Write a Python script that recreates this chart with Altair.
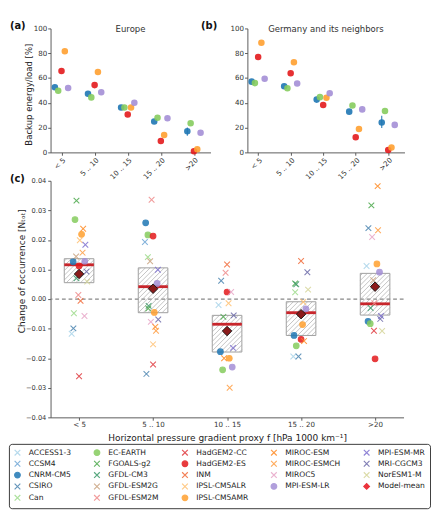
import altair as alt
import pandas as pd
import numpy as np

# ---------------- data ----------------
categories = ["< 5", "5 .. 10", "10 .. 15", "15 .. 20", ">20"]

top_models = ["CNRM-CM5", "EC-EARTH", "HadGEM2-ES", "IPSL-CM5AMR", "MPI-ESM-LR"]
europe_backup = {
    "CNRM-CM5":    [52.5, 47.4, 36.2, 25.0, 17.0],
    "EC-EARTH":    [49.7, 44.4, 36.2, 28.0, 23.5],
    "HadGEM2-ES":  [65.6, 54.3, 30.6, 9.2, 1.0],
    "IPSL-CM5AMR": [81.6, 64.8, 36.2, 14.0, 2.5],
    "MPI-ESM-LR":  [52.0, 48.5, 40.0, 27.6, 15.8],
}
germany_backup = {
    "CNRM-CM5":    [57.1, 53.3, 42.6, 32.9, 24.2],
    "EC-EARTH":    [55.9, 51.8, 44.6, 37.8, 33.4],
    "HadGEM2-ES":  [77.0, 63.8, 38.3, 12.2, 2.0],
    "IPSL-CM5AMR": [88.5, 72.7, 44.1, 18.9, 4.0],
    "MPI-ESM-LR":  [59.4, 55.6, 47.7, 34.7, 22.2],
}
# (model, category index, low, high)
europe_err = [("CNRM-CM5", 4, 13.5, 20.0)]
germany_err = [("CNRM-CM5", 4, 19.6, 29.6)]

# change of occurrence per category: (model, value, jitter)
occ_lt5 = [
    ("FGOALS-g2", 0.0333, -0.035), ("EC-EARTH", 0.0269, -0.055), ("MIROC-ESM", 0.0238, 0.055),
    ("IPSL-CM5AMR", 0.0219, 0.034), ("IPSL-CM5ALR", 0.0199, 0.010), ("MPI-ESM-MR", 0.0184, 0.085),
    ("MIROC-ESMCH", 0.0157, 0.047), ("GFDL-ESM2G", 0.0144, -0.040), ("CNRM-CM5", 0.0126, -0.080),
    ("MPI-ESM-LR", 0.0128, 0.077), ("HadGEM2-ES", 0.0112, 0.000), ("MRI-CGCM3", 0.0093, 0.100),
    ("GFDL-CM3", 0.0070, -0.035), ("NorESM1-M", 0.0059, 0.110), ("GFDL-ESM2M", 0.0014, -0.010),
    ("INM", -0.0006, 0.020), ("Can", -0.0048, -0.070), ("MIROC5", -0.0057, 0.073),
    ("CSIRO", -0.0099, -0.077), ("ACCESS1-3", -0.0117, -0.100), ("HadGEM2-CC", -0.0261, 0.000),
]
occ_5_10 = [
    ("GFDL-ESM2M", 0.0336, -0.020), ("CNRM-CM5", 0.0258, -0.100), ("EC-EARTH", 0.0217, -0.070),
    ("HadGEM2-ES", 0.0213, 0.000), ("CCSM4", 0.0193, -0.110), ("Can", 0.0142, -0.070),
    ("GFDL-ESM2G", 0.0128, -0.040), ("MPI-ESM-MR", 0.0099, 0.065), ("MPI-ESM-LR", 0.0053, 0.055),
    ("GFDL-CM3", -0.0023, -0.060), ("FGOALS-g2", -0.0032, -0.065), ("IPSL-CM5AMR", -0.0045, 0.017),
    ("MRI-CGCM3", -0.0069, 0.070), ("MIROC5", -0.0077, -0.030), ("MIROC-ESM", -0.0094, 0.030),
    ("MIROC-ESMCH", -0.0107, 0.040), ("IPSL-CM5ALR", -0.0153, 0.000), ("HadGEM2-CC", -0.0221, 0.000),
    ("CSIRO", -0.0253, -0.090),
]
occ_10_15 = [
    ("INM", 0.0117, 0.000), ("GFDL-ESM2M", 0.0089, -0.020), ("CSIRO", 0.0062, -0.080),
    ("HadGEM2-ES", 0.0024, 0.000), ("MIROC5", 0.0024, 0.055), ("ACCESS1-3", -0.0020, -0.115),
    ("IPSL-CM5ALR", -0.0014, 0.020), ("FGOALS-g2", -0.0060, -0.050), ("MRI-CGCM3", -0.0055, 0.090),
    ("MPI-ESM-MR", -0.0165, 0.080), ("CNRM-CM5", -0.0178, -0.090), ("MIROC-ESM", -0.0200, -0.040),
    ("IPSL-CM5AMR", -0.0200, 0.030), ("EC-EARTH", -0.0239, -0.060), ("MPI-ESM-LR", -0.0230, 0.070),
    ("MIROC-ESMCH", -0.0300, 0.035),
]
occ_15_20 = [
    ("INM", 0.0129, 0.000), ("MRI-CGCM3", 0.0091, 0.085), ("FGOALS-g2", 0.0053, -0.080),
    ("GFDL-CM3", 0.0050, -0.065), ("NorESM1-M", 0.0032, 0.095), ("Can", 0.0023, -0.080),
    ("IPSL-CM5ALR", -0.0010, 0.030), ("MPI-ESM-LR", -0.0033, 0.065), ("IPSL-CM5AMR", -0.0086, 0.020),
    ("CNRM-CM5", -0.0123, -0.095), ("HadGEM2-ES", -0.0136, 0.000), ("MIROC-ESM", -0.0142, 0.040),
    ("EC-EARTH", -0.0158, -0.065), ("ACCESS1-3", -0.0194, -0.105), ("CSIRO", -0.0194, -0.035),
]
occ_gt20 = [
    ("MIROC-ESM", 0.0382, 0.035), ("FGOALS-g2", 0.0317, -0.050), ("CSIRO", 0.0240, -0.090),
    ("MIROC-ESMCH", 0.0233, 0.040), ("MIROC5", 0.0210, -0.040), ("ACCESS1-3", 0.0112, -0.115),
    ("IPSL-CM5AMR", 0.0119, 0.025), ("MPI-ESM-LR", 0.0091, 0.060), ("GFDL-ESM2G", 0.0064, -0.025),
    ("GFDL-ESM2M", -0.0014, -0.010), ("GFDL-CM3", -0.0030, -0.060), ("MPI-ESM-MR", -0.0057, 0.080),
    ("MRI-CGCM3", -0.0067, 0.070), ("CNRM-CM5", -0.0075, -0.095), ("EC-EARTH", -0.0083, -0.065),
    ("HadGEM2-CC", -0.0107, -0.015), ("NorESM1-M", -0.0108, 0.095), ("HadGEM2-ES", -0.0202, 0.000),
]
occ_by_cat = [occ_lt5, occ_5_10, occ_10_15, occ_15_20, occ_gt20]

box_q1 = [0.00555, -0.0046, -0.0179, -0.0123, -0.0054]
box_median = [0.0116, 0.0042, -0.0085, -0.0046, -0.0016]
box_q3 = [0.01365, 0.01056, -0.0055, -0.0009, 0.0087]
box_mean = [0.0085, 0.0035, -0.0108, -0.0051, 0.0042]

# ---------------- styles ----------------
X_PATH = "M-1,-1L1,1M-1,1L1,-1"
model_style = {
    "ACCESS1-3":   ("#a9d4ea", X_PATH),
    "CCSM4":       ("#6fa6d6", X_PATH),
    "CNRM-CM5":    ("#1f77b4", "circle"),
    "CSIRO":       ("#4a84b0", X_PATH),
    "Can":         ("#9edc8c", X_PATH),
    "EC-EARTH":    ("#86cc5e", "circle"),
    "FGOALS-g2":   ("#4aa84a", X_PATH),
    "GFDL-CM3":    ("#3c9a6a", X_PATH),
    "GFDL-ESM2G":  ("#c9a27e", X_PATH),
    "GFDL-ESM2M":  ("#ef8a8a", X_PATH),
    "HadGEM2-CC":  ("#e0393e", X_PATH),
    "HadGEM2-ES":  ("#e3191c", "circle"),
    "INM":         ("#f26b3a", X_PATH),
    "IPSL-CM5ALR": ("#ffc070", X_PATH),
    "IPSL-CM5AMR": ("#ffa030", "circle"),
    "MIROC-ESM":   ("#ff8a22", X_PATH),
    "MIROC-ESMCH": ("#ff9d40", X_PATH),
    "MIROC5":      ("#e8a6c8", X_PATH),
    "MPI-ESM-LR":  ("#a48fd6", "circle"),
    "MPI-ESM-MR":  ("#7d6fd0", X_PATH),
    "MRI-CGCM3":   ("#6a68a8", X_PATH),
    "NorESM1-M":   ("#d6d69a", X_PATH),
    "Model-mean":  ("#e8101a", "diamond"),
}
# row-major order (horizontal legend) so that the 5 columns read like the reference
legend_order = [
    "ACCESS1-3", "EC-EARTH", "HadGEM2-CC", "MIROC-ESM", "MPI-ESM-MR",
    "CCSM4", "FGOALS-g2", "HadGEM2-ES", "MIROC-ESMCH", "MRI-CGCM3",
    "CNRM-CM5", "GFDL-CM3", "INM", "MIROC5", "NorESM1-M",
    "CSIRO", "GFDL-ESM2G", "IPSL-CM5ALR", "MPI-ESM-LR", "Model-mean",
    "Can", "GFDL-ESM2M", "IPSL-CM5AMR",
]

FONT = "DejaVu Sans"
AX = "#555555"
label_expr = "[" + ",".join("'" + c + "'" for c in categories) + "][datum.value]"

# ---------------- top panels ----------------
A_W, B_W, TOP_H = 169, 166, 131
TOP_XDOM = [-0.33, 4.5]
DODGE = 0.1
top_colors = [model_style[m][0] for m in top_models]


def top_panel(values, errs, title, tag, tag_x, W, ytitle):
    rows = []
    for k, m in enumerate(top_models):
        for i, v in enumerate(values[m]):
            rows.append({"model": m, "x": i + (k - 2) * DODGE, "value": v})
    df = pd.DataFrame(rows)
    erows = [{"model": m, "x": i + (top_models.index(m) - 2) * DODGE, "lo": lo, "hi": hi}
             for (m, i, lo, hi) in errs]
    edf = pd.DataFrame(erows)

    xaxis = alt.Axis(values=[0, 1, 2, 3, 4], labelExpr=label_expr, labelAngle=-45,
                     labelAlign="right", labelBaseline="top", labelFontSize=7.5,
                     tickSize=3, labelPadding=1, title=None)
    if ytitle:
        yaxis = alt.Axis(values=[0, 20, 40, 60, 80, 100], title=ytitle, titleFontSize=9,
                         titleX=-23, titleY=TOP_H / 2 + 4, titleBaseline="middle",
                         labelFontSize=7.5, tickSize=3, labelPadding=1)
    else:
        yaxis = alt.Axis(values=[0, 20, 40, 60, 80, 100], title=None,
                         labelFontSize=7.5, tickSize=3, labelPadding=1)
    xsc = alt.Scale(domain=TOP_XDOM, nice=False, zero=False)
    ysc = alt.Scale(domain=[0, 100], nice=False)
    col = alt.Color("model:N", scale=alt.Scale(domain=top_models, range=top_colors), legend=None)

    err = alt.Chart(edf).mark_rule(strokeWidth=1.2, opacity=0.9).encode(
        x=alt.X("x:Q", scale=xsc, axis=xaxis),
        y=alt.Y("lo:Q", scale=ysc, axis=yaxis),
        y2="hi:Q", color=col)
    pts = alt.Chart(df).mark_circle(size=48, opacity=0.9).encode(
        x=alt.X("x:Q", scale=xsc, axis=xaxis),
        y=alt.Y("value:Q", scale=ysc, axis=yaxis),
        color=col)
    ttl = alt.Chart(pd.DataFrame({"t": [title]})).mark_text(
        fontSize=9, font=FONT, baseline="middle", color="#333").encode(
        text="t:N", x=alt.value(W / 2), y=alt.value(1))
    lab = alt.Chart(pd.DataFrame({"t": [tag]})).mark_text(
        fontSize=10.5, font=FONT, fontWeight="bold", baseline="top", align="left",
        color="#111").encode(text="t:N", x=alt.value(tag_x), y=alt.value(-7))
    return alt.layer(err, pts, ttl, lab).properties(width=W, height=TOP_H)


chart_a = top_panel(europe_backup, europe_err, "Europe", "(a)", -43, A_W,
                    "Backup energy/load [%]")
chart_b = top_panel(germany_backup, germany_err, "Germany and its neighbors", "(b)", -49,
                    B_W, None)

# ---------------- panel (c) ----------------
C_W, C_H = 373, 250
C_XDOM = [-0.385, 4.385]
C_YDOM = [-0.04, 0.04]
HALF = 0.2
px_x = C_W / (C_XDOM[1] - C_XDOM[0])
px_y = C_H / (C_YDOM[1] - C_YDOM[0])

pts_rows = []
for i, lst in enumerate(occ_by_cat):
    for (m, v, j) in lst:
        pts_rows.append({"model": m, "x": i + j, "value": v})
pts_df = pd.DataFrame(pts_rows)

box_df = pd.DataFrame({"x0": [i - HALF for i in range(5)], "x1": [i + HALF for i in range(5)],
                       "q1": box_q1, "q3": box_q3, "med": box_median,
                       "xm": list(range(5)), "mean": box_mean})

# diagonal hatch inside each box (45 deg in screen space)
hatch_rows = []
SP = 5.0
for i in range(5):
    W = 2 * HALF * px_x
    H = (box_q3[i] - box_q1[i]) * px_y
    for c in np.arange(-H + SP / 2, W, SP):
        xs, xe = max(0.0, c), min(W, H + c)
        if xe - xs < 0.3:
            continue
        hatch_rows.append({"hx": i - HALF + xs / px_x, "hy": box_q1[i] + (xs - c) / px_y,
                           "hx2": i - HALF + xe / px_x, "hy2": box_q1[i] + (xe - c) / px_y})
hatch_df = pd.DataFrame(hatch_rows)

cxsc = alt.Scale(domain=C_XDOM, nice=False, zero=False)
cysc = alt.Scale(domain=C_YDOM, nice=False, zero=False)
cxaxis = alt.Axis(values=[0, 1, 2, 3, 4], labelExpr=label_expr, labelFontSize=7.5,
                  tickSize=3, labelPadding=1,
                  title="Horizontal pressure gradient proxy f [hPa  1000 km\u207b\u00b9]",
                  titleFontSize=9.5, titlePadding=5)
cyaxis = alt.Axis(values=[-0.04, -0.03, -0.02, -0.01, 0, 0.01, 0.02, 0.03, 0.04], format=".2f",
                  labelFontSize=7, tickSize=3, labelPadding=2,
                  title="Change of occurrence  [N\u209c\u2092\u209c]", titleFontSize=9.5,
                  titleX=-31, titleY=95, titleBaseline="middle")


def cx(f):
    return alt.X(f, scale=cxsc, axis=cxaxis)


def cy(f):
    return alt.Y(f, scale=cysc, axis=cyaxis)


zero = alt.Chart(pd.DataFrame({"z": [0.0]})).mark_rule(
    color="#888888", strokeDash=[4, 3], strokeWidth=1.2).encode(y=cy("z:Q"))
boxes = alt.Chart(box_df).mark_rect(fill="transparent", stroke="#9a9a9a", strokeWidth=1).encode(
    x=cx("x0:Q"), x2="x1:Q", y=cy("q1:Q"), y2="q3:Q")
hatch = alt.Chart(hatch_df).mark_rule(color="#a5a5a5", strokeWidth=0.7).encode(
    x=cx("hx:Q"), y=cy("hy:Q"), x2="hx2:Q", y2="hy2:Q")
median = alt.Chart(box_df).mark_rule(color="#c8262c", strokeWidth=3).encode(
    x=cx("x0:Q"), x2="x1:Q", y=cy("med:Q"))

leg = alt.Legend(title=None, orient="none", legendX=-44, legendY=278, columns=5,
                 direction="horizontal", gridAlign="each",
                 symbolSize=36, symbolStrokeWidth=1.2, labelFontSize=8, labelFont=FONT,
                 labelColor="#222", rowPadding=0, columnPadding=21, padding=5,
                 strokeColor="#333333", cornerRadius=3, fillColor="white", labelOffset=8)
dom = legend_order
rng_col = [model_style[m][0] for m in legend_order]
rng_shape = [model_style[m][1] for m in legend_order]
scatter = alt.Chart(pts_df).mark_point(filled=True, size=36, strokeWidth=1.1, opacity=0.85).encode(
    x=cx("x:Q"), y=cy("value:Q"),
    color=alt.Color("model:N", scale=alt.Scale(domain=dom, range=rng_col), legend=leg),
    stroke=alt.Stroke("model:N", scale=alt.Scale(domain=dom, range=rng_col), legend=leg),
    shape=alt.Shape("model:N", scale=alt.Scale(domain=dom, range=rng_shape), legend=leg))
diamonds = alt.Chart(box_df).mark_point(shape="diamond", filled=True, size=100, fill="#8b1a1a",
                                        stroke="#1a1a1a", strokeWidth=1, opacity=1).encode(
    x=cx("xm:Q"), y=cy("mean:Q"))
clab = alt.Chart(pd.DataFrame({"t": ["(c)"]})).mark_text(
    fontSize=10.5, font=FONT, fontWeight="bold", baseline="top", align="left",
    color="#111").encode(text="t:N", x=alt.value(-43), y=alt.value(-7))

chart_c = alt.layer(zero, boxes, hatch, median, scatter, diamonds, clab).properties(
    width=C_W, height=C_H)

top = alt.hconcat(chart_a, chart_b, spacing=-10)
chart = alt.vconcat(top, chart_c, spacing=-10).resolve_scale(
    color="independent", stroke="independent", shape="independent"
).properties(padding=0).configure(font=FONT).configure_view(stroke=None).configure_axis(
    grid=False, domainColor=AX, tickColor=AX, labelColor="#333", titleColor="#222",
    titleFontWeight="normal", labelFont=FONT, titleFont=FONT, domainWidth=1, tickWidth=1)

chart.save("out.html", embed_options={"renderer": "svg", "actions": False})
